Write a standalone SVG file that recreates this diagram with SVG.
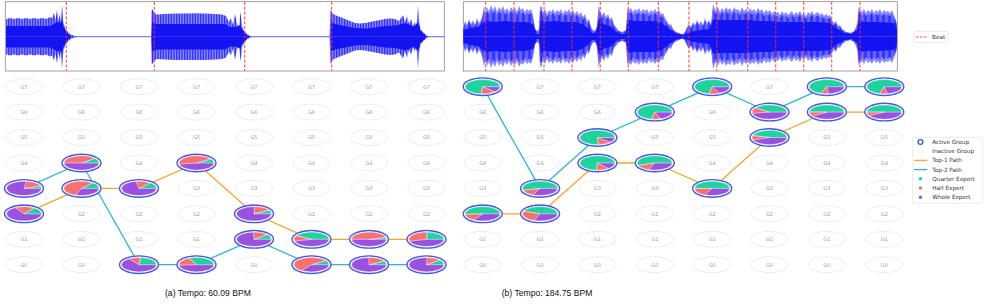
<svg xmlns="http://www.w3.org/2000/svg" xmlns:xlink="http://www.w3.org/1999/xlink" width="986" height="304" viewBox="0 0 986 304">
<style>
.box{fill:#fff;stroke:#8a8a8a;stroke-width:0.8}
.wo{fill:url(#st)}
.wc{fill:#1414f2}
.flat{stroke:#8080ff;stroke-width:1.3}
.beat{stroke:#ff2a2a;stroke-width:1.1;stroke-dasharray:3 1.8;stroke-opacity:0.85}
.ie{fill:#fff;stroke:#e4e9f1;stroke-width:0.8}
.lab{font-family:"DejaVu Sans",sans-serif;font-size:5px;fill:#9aa0a8;text-anchor:middle}
.ring{fill:#fff;stroke:#4658e6;stroke-width:1.4}
.pw{fill:#9b51e0;stroke:#fff;stroke-width:0.5;vector-effect:non-scaling-stroke}
.pq{fill:#1fd39c;stroke:#fff;stroke-width:0.5;vector-effect:non-scaling-stroke}
.ph{fill:#f87171;stroke:#fff;stroke-width:0.5;vector-effect:non-scaling-stroke}
.p1{fill:none;stroke:#f5a62b;stroke-width:1.3;stroke-linejoin:round}
.p2{fill:none;stroke:#2bb6d8;stroke-width:1.3;stroke-linejoin:round}
.lg{fill:#fff;stroke:#dedede;stroke-width:0.6}
.lt{font-family:"DejaVu Sans",sans-serif;font-size:5.7px;fill:#333}
.cap{font-family:"Liberation Sans",Arial,sans-serif;font-size:8.6px;fill:#111}
</style>
<defs>
<pattern id="st" width="1.6" height="80" patternUnits="userSpaceOnUse"><rect width="1.6" height="80" fill="#a8a8ff"/><rect width="0.9" height="80" fill="#2222ff"/></pattern>
<pattern id="st2" width="1.2" height="80" patternUnits="userSpaceOnUse"><rect width="1.2" height="80" fill="#7a7aff"/><rect width="0.7" height="80" fill="#2a2aff"/></pattern>
<ellipse id="ie" class="ie" rx="18.8" ry="8"/>
<polygon id="wb1" points="463.5,36.5 463.5,27 465,21 467,25 469,19 471,24 473,20 475,25 477,18 479,23 481,20 483,12 484,6 485.5,13 487,7 489,11 491,5 493,10 495,6 497,12 499,7 501,10 503,6 505,11 507,8 509,12 511,7 513,10 515,8 517,12 519,6 521,10 523,8 525,12 527,9 529,11 531,9 533,15 535,28 537,31 539,29 540,7 541.5,6 543,13 545,9 547,14 549,10 551,12 553,9 555,13 557,10 559,12 561,9 563,14 565,10 567,12 569,9 571,13 573,10 575,14 577,11 579,15 581,12 583,17 585,14 587,21 589,19 591,27 593,30 595,31 597,26 598.5,5 600,11 602,15 604,12 606,17 608,14 610,19 612,17 614,25 616,27 618,30 620,31 622,32 624,31 626,30 627.5,8 629,10 631,8 633,12 635,9 637,11 639,8 641,12 643,9 645,11 647,9 649,13 651,10 653,12 655,9 657,12 659,10 661,14 663,13 665,18 667,21 669,25 671,24 673,29 675,31 677,32 679,33 681,34 683,34 685,32 687,27 689,24 691,27 693,22 695,25 697,20 699,24 701,21 703,25 705,18 707,23 709,20 711,24 713,4 714.5,8 716,11 718,7 720,12 722,8 724,11 726,7 728,10 730,8 732,12 734,7 736,10 738,9 740,12 742,7 744,11 746,9 748,12 750,8 752,11 754,9 756,12 758,8 760,11 762,9 764,13 766,10 768,12 770,10 772,14 774,11 776,13 778,12 780,15 782,11 784,14 786,12 788,15 790,13 792,11 794,15 796,12 798,14 800,11 802,15 804,13 806,16 808,12 810,14 812,11 814,15 816,13 818,12 820,15 822,13 824,16 826,14 828,16 830,15 832,20 834,23 836,21 838,26 840,25 842,29 844,30 846,32 848,32 850,33 852,32 854,31 856,27 857.5,22 858.5,7 860,10 862,12 864,9 866,13 868,10 870,12 872,9 874,13 876,10 878,12 880,9 882,13 884,10 886,12 888,11 890,13 892,10 894,15 896,20 897,24 897,36.5"/>
<polygon id="wb2" points="463.5,36.5 463.5,30 470,28 478,27 484,22 486,21 495,22 505,21 515,22 525,22 533,24 536,34 539,34 541,20 545,22 555,21 565,22 575,22 582,24 588,28 592,33 596,33 599,18 603,24 610,26 614,30 620,34 626,34 628,20 635,21 645,21 655,21 662,23 668,28 675,33 684,35 690,32 700,30 710,29 713,19 716,20 730,20 745,20 760,21 770,21 780,22 800,22 820,22 830,23 836,28 845,33 852,34 857,30 859,21 865,22 880,22 894,23 897,30 897,36.5"/>
</defs>

<g id="waveform-a">
<rect class="box" x="5.3" y="1.7" width="439" height="69.3"/>
<line class="flat" x1="6" y1="36.7" x2="444" y2="36.7"/>
<polygon id="wa1" class="wo" points="6,36.7 6,19 10,18 14,19 18,18 22,19 26,18 30,19 34,18 38,19 42,18 46,19 50,17 52,18 54,13 55.5,20 57,10 58.5,21 60,14 61,22 62,5 63.5,23 65,28 67,31 70,34 74,35.8 78,36.5 78,36.7"/>
<polygon id="wa2" class="wo" points="151,36.7 151.5,10 152.5,9.3 154,13 157,14.5 165,14 175,13.5 185,13.5 195,13.3 205,13.5 215,14 222,14.5 226,16 229,22 231,18 233,25 235,14 237,24 239,28 240.5,12 242,26 244,31 247,34 250,36 253,36.7"/>
<polygon id="wa3" class="wo" points="329.5,36.7 330.5,9 332,13 335,15 340,17 345,19 350,21 355,23 360,23.5 365,23 370,22 375,21 380,20 385,19 390,18.5 395,19 399,21 401,18 403,15 405,22 407,16 409,24 411,19 413,26 415,22 416.5,27 418,5 419.5,25 421,30 424,33 427,35.8 430,36.7"/>
<polygon id="wa4" class="wc" points="6,36.7 6,26 50,26 54,24 57,22 60,23 62,20 64,28 67,33 70,35.5 72,36.7"/>
<polygon id="wa5" class="wc" points="151.5,36.7 152,22 156,24 225,24 230,27 236,27 240,25 243,31 247,35 250,36.7"/>
<polygon id="wa6" class="wc" points="330.5,36.7 331,22 335,24 345,26 355,28 365,28.5 375,27.5 385,26 395,25.5 402,24 406,23 410,25 414,27 418,22 420,30 424,34 427,36.7"/>
<g transform="translate(0,73.4) scale(1,-1)">
<use href="#wa1"/><use href="#wa2"/><use href="#wa3"/><use href="#wa4"/><use href="#wa5"/><use href="#wa6"/>
</g>
<line class="beat" x1="66.3" y1="2" x2="66.3" y2="71"/>
<line class="beat" x1="154.3" y1="2" x2="154.3" y2="71"/>
<line class="beat" x1="244.7" y1="2" x2="244.7" y2="71"/>
<line class="beat" x1="331.7" y1="2" x2="331.7" y2="71"/>
</g>

<g id="waveform-b">
<rect class="box" x="463.3" y="1.7" width="434" height="69.3"/>
<use href="#wb1" fill="#8a8aff"/>
<use href="#wb1" fill="url(#st2)" transform="translate(0,36.5) scale(1,0.86) translate(0,-36.5)"/>
<use href="#wb2" fill="#1414f2"/>
<g transform="translate(0,73) scale(1,-1)">
<use href="#wb1" fill="#8a8aff"/>
<use href="#wb1" fill="url(#st2)" transform="translate(0,36.5) scale(1,0.86) translate(0,-36.5)"/>
<use href="#wb2" fill="#1414f2"/>
</g>
<line class="beat" x1="485.7" y1="2" x2="485.7" y2="71"/>
<line class="beat" x1="514" y1="2" x2="514" y2="71"/>
<line class="beat" x1="544" y1="2" x2="544" y2="71"/>
<line class="beat" x1="572" y1="2" x2="572" y2="71"/>
<line class="beat" x1="600.3" y1="2" x2="600.3" y2="71"/>
<line class="beat" x1="628.3" y1="2" x2="628.3" y2="71"/>
<line class="beat" x1="658.3" y1="2" x2="658.3" y2="71"/>
<line class="beat" x1="689" y1="2" x2="689" y2="71"/>
<line class="beat" x1="716.7" y1="2" x2="716.7" y2="71"/>
<line class="beat" x1="747.7" y1="2" x2="747.7" y2="71"/>
<line class="beat" x1="775.7" y1="2" x2="775.7" y2="71"/>
<line class="beat" x1="803.7" y1="2" x2="803.7" y2="71"/>
<line class="beat" x1="831.7" y1="2" x2="831.7" y2="71"/>
<line class="beat" x1="860" y1="2" x2="860" y2="71"/>
</g>

<g id="legend-beat">
<rect class="lg" x="914" y="31.5" width="34" height="11" rx="1.5"/>
<line class="beat" x1="916" y1="37" x2="928" y2="37" style="stroke-dasharray:2.5 1.5"/>
<text class="lt" x="932" y="39">Beat</text>
</g>

<g id="inactive-a">
<g id="a0-7" transform="translate(24,86.7)"><use href="#ie"/><text class="lab" y="1.8">G7</text></g>
<g id="a0-6" transform="translate(24,112.1)"><use href="#ie"/><text class="lab" y="1.8">G6</text></g>
<g id="a0-5" transform="translate(24,137.5)"><use href="#ie"/><text class="lab" y="1.8">G5</text></g>
<g id="a0-4" transform="translate(24,163)"><use href="#ie"/><text class="lab" y="1.8">G4</text></g>
<g id="a0-1" transform="translate(24,239.3)"><use href="#ie"/><text class="lab" y="1.8">G1</text></g>
<g id="a0-0" transform="translate(24,264.7)"><use href="#ie"/><text class="lab" y="1.8">G0</text></g>
<g id="a1-7" transform="translate(81.5,86.7)"><use href="#ie"/><text class="lab" y="1.8">G7</text></g>
<g id="a1-6" transform="translate(81.5,112.1)"><use href="#ie"/><text class="lab" y="1.8">G6</text></g>
<g id="a1-5" transform="translate(81.5,137.5)"><use href="#ie"/><text class="lab" y="1.8">G5</text></g>
<g id="a1-2" transform="translate(81.5,213.8)"><use href="#ie"/><text class="lab" y="1.8">G2</text></g>
<g id="a1-1" transform="translate(81.5,239.3)"><use href="#ie"/><text class="lab" y="1.8">G1</text></g>
<g id="a1-0" transform="translate(81.5,264.7)"><use href="#ie"/><text class="lab" y="1.8">G0</text></g>
<g id="a2-7" transform="translate(139,86.7)"><use href="#ie"/><text class="lab" y="1.8">G7</text></g>
<g id="a2-6" transform="translate(139,112.1)"><use href="#ie"/><text class="lab" y="1.8">G6</text></g>
<g id="a2-5" transform="translate(139,137.5)"><use href="#ie"/><text class="lab" y="1.8">G5</text></g>
<g id="a2-4" transform="translate(139,163)"><use href="#ie"/><text class="lab" y="1.8">G4</text></g>
<g id="a2-2" transform="translate(139,213.8)"><use href="#ie"/><text class="lab" y="1.8">G2</text></g>
<g id="a2-1" transform="translate(139,239.3)"><use href="#ie"/><text class="lab" y="1.8">G1</text></g>
<g id="a3-7" transform="translate(196.5,86.7)"><use href="#ie"/><text class="lab" y="1.8">G7</text></g>
<g id="a3-6" transform="translate(196.5,112.1)"><use href="#ie"/><text class="lab" y="1.8">G6</text></g>
<g id="a3-5" transform="translate(196.5,137.5)"><use href="#ie"/><text class="lab" y="1.8">G5</text></g>
<g id="a3-3" transform="translate(196.5,188.4)"><use href="#ie"/><text class="lab" y="1.8">G3</text></g>
<g id="a3-2" transform="translate(196.5,213.8)"><use href="#ie"/><text class="lab" y="1.8">G2</text></g>
<g id="a3-1" transform="translate(196.5,239.3)"><use href="#ie"/><text class="lab" y="1.8">G1</text></g>
<g id="a4-7" transform="translate(254,86.7)"><use href="#ie"/><text class="lab" y="1.8">G7</text></g>
<g id="a4-6" transform="translate(254,112.1)"><use href="#ie"/><text class="lab" y="1.8">G6</text></g>
<g id="a4-5" transform="translate(254,137.5)"><use href="#ie"/><text class="lab" y="1.8">G5</text></g>
<g id="a4-4" transform="translate(254,163)"><use href="#ie"/><text class="lab" y="1.8">G4</text></g>
<g id="a4-3" transform="translate(254,188.4)"><use href="#ie"/><text class="lab" y="1.8">G3</text></g>
<g id="a4-0" transform="translate(254,264.7)"><use href="#ie"/><text class="lab" y="1.8">G0</text></g>
<g id="a5-7" transform="translate(311.5,86.7)"><use href="#ie"/><text class="lab" y="1.8">G7</text></g>
<g id="a5-6" transform="translate(311.5,112.1)"><use href="#ie"/><text class="lab" y="1.8">G6</text></g>
<g id="a5-5" transform="translate(311.5,137.5)"><use href="#ie"/><text class="lab" y="1.8">G5</text></g>
<g id="a5-4" transform="translate(311.5,163)"><use href="#ie"/><text class="lab" y="1.8">G4</text></g>
<g id="a5-3" transform="translate(311.5,188.4)"><use href="#ie"/><text class="lab" y="1.8">G3</text></g>
<g id="a5-2" transform="translate(311.5,213.8)"><use href="#ie"/><text class="lab" y="1.8">G2</text></g>
<g id="a6-7" transform="translate(369,86.7)"><use href="#ie"/><text class="lab" y="1.8">G7</text></g>
<g id="a6-6" transform="translate(369,112.1)"><use href="#ie"/><text class="lab" y="1.8">G6</text></g>
<g id="a6-5" transform="translate(369,137.5)"><use href="#ie"/><text class="lab" y="1.8">G5</text></g>
<g id="a6-4" transform="translate(369,163)"><use href="#ie"/><text class="lab" y="1.8">G4</text></g>
<g id="a6-3" transform="translate(369,188.4)"><use href="#ie"/><text class="lab" y="1.8">G3</text></g>
<g id="a6-2" transform="translate(369,213.8)"><use href="#ie"/><text class="lab" y="1.8">G2</text></g>
<g id="a7-7" transform="translate(426.5,86.7)"><use href="#ie"/><text class="lab" y="1.8">G7</text></g>
<g id="a7-6" transform="translate(426.5,112.1)"><use href="#ie"/><text class="lab" y="1.8">G6</text></g>
<g id="a7-5" transform="translate(426.5,137.5)"><use href="#ie"/><text class="lab" y="1.8">G5</text></g>
<g id="a7-4" transform="translate(426.5,163)"><use href="#ie"/><text class="lab" y="1.8">G4</text></g>
<g id="a7-3" transform="translate(426.5,188.4)"><use href="#ie"/><text class="lab" y="1.8">G3</text></g>
<g id="a7-2" transform="translate(426.5,213.8)"><use href="#ie"/><text class="lab" y="1.8">G2</text></g>
</g>

<g id="inactive-b">
<g id="b0-6" transform="translate(482.7,112.1)"><use href="#ie"/><text class="lab" y="1.8">G6</text></g>
<g id="b0-5" transform="translate(482.7,137.5)"><use href="#ie"/><text class="lab" y="1.8">G5</text></g>
<g id="b0-4" transform="translate(482.7,163)"><use href="#ie"/><text class="lab" y="1.8">G4</text></g>
<g id="b0-3" transform="translate(482.7,188.4)"><use href="#ie"/><text class="lab" y="1.8">G3</text></g>
<g id="b0-1" transform="translate(482.7,239.3)"><use href="#ie"/><text class="lab" y="1.8">G1</text></g>
<g id="b0-0" transform="translate(482.7,264.7)"><use href="#ie"/><text class="lab" y="1.8">G0</text></g>
<g id="b1-7" transform="translate(540.1,86.7)"><use href="#ie"/><text class="lab" y="1.8">G7</text></g>
<g id="b1-6" transform="translate(540.1,112.1)"><use href="#ie"/><text class="lab" y="1.8">G6</text></g>
<g id="b1-5" transform="translate(540.1,137.5)"><use href="#ie"/><text class="lab" y="1.8">G5</text></g>
<g id="b1-4" transform="translate(540.1,163)"><use href="#ie"/><text class="lab" y="1.8">G4</text></g>
<g id="b1-1" transform="translate(540.1,239.3)"><use href="#ie"/><text class="lab" y="1.8">G1</text></g>
<g id="b1-0" transform="translate(540.1,264.7)"><use href="#ie"/><text class="lab" y="1.8">G0</text></g>
<g id="b2-7" transform="translate(597.4,86.7)"><use href="#ie"/><text class="lab" y="1.8">G7</text></g>
<g id="b2-6" transform="translate(597.4,112.1)"><use href="#ie"/><text class="lab" y="1.8">G6</text></g>
<g id="b2-3" transform="translate(597.4,188.4)"><use href="#ie"/><text class="lab" y="1.8">G3</text></g>
<g id="b2-2" transform="translate(597.4,213.8)"><use href="#ie"/><text class="lab" y="1.8">G2</text></g>
<g id="b2-1" transform="translate(597.4,239.3)"><use href="#ie"/><text class="lab" y="1.8">G1</text></g>
<g id="b2-0" transform="translate(597.4,264.7)"><use href="#ie"/><text class="lab" y="1.8">G0</text></g>
<g id="b3-7" transform="translate(654.8,86.7)"><use href="#ie"/><text class="lab" y="1.8">G7</text></g>
<g id="b3-5" transform="translate(654.8,137.5)"><use href="#ie"/><text class="lab" y="1.8">G5</text></g>
<g id="b3-3" transform="translate(654.8,188.4)"><use href="#ie"/><text class="lab" y="1.8">G3</text></g>
<g id="b3-2" transform="translate(654.8,213.8)"><use href="#ie"/><text class="lab" y="1.8">G2</text></g>
<g id="b3-1" transform="translate(654.8,239.3)"><use href="#ie"/><text class="lab" y="1.8">G1</text></g>
<g id="b3-0" transform="translate(654.8,264.7)"><use href="#ie"/><text class="lab" y="1.8">G0</text></g>
<g id="b4-6" transform="translate(712.2,112.1)"><use href="#ie"/><text class="lab" y="1.8">G6</text></g>
<g id="b4-5" transform="translate(712.2,137.5)"><use href="#ie"/><text class="lab" y="1.8">G5</text></g>
<g id="b4-4" transform="translate(712.2,163)"><use href="#ie"/><text class="lab" y="1.8">G4</text></g>
<g id="b4-2" transform="translate(712.2,213.8)"><use href="#ie"/><text class="lab" y="1.8">G2</text></g>
<g id="b4-1" transform="translate(712.2,239.3)"><use href="#ie"/><text class="lab" y="1.8">G1</text></g>
<g id="b4-0" transform="translate(712.2,264.7)"><use href="#ie"/><text class="lab" y="1.8">G0</text></g>
<g id="b5-7" transform="translate(769.5,86.7)"><use href="#ie"/><text class="lab" y="1.8">G7</text></g>
<g id="b5-4" transform="translate(769.5,163)"><use href="#ie"/><text class="lab" y="1.8">G4</text></g>
<g id="b5-3" transform="translate(769.5,188.4)"><use href="#ie"/><text class="lab" y="1.8">G3</text></g>
<g id="b5-2" transform="translate(769.5,213.8)"><use href="#ie"/><text class="lab" y="1.8">G2</text></g>
<g id="b5-1" transform="translate(769.5,239.3)"><use href="#ie"/><text class="lab" y="1.8">G1</text></g>
<g id="b5-0" transform="translate(769.5,264.7)"><use href="#ie"/><text class="lab" y="1.8">G0</text></g>
<g id="b6-5" transform="translate(826.9,137.5)"><use href="#ie"/><text class="lab" y="1.8">G5</text></g>
<g id="b6-4" transform="translate(826.9,163)"><use href="#ie"/><text class="lab" y="1.8">G4</text></g>
<g id="b6-3" transform="translate(826.9,188.4)"><use href="#ie"/><text class="lab" y="1.8">G3</text></g>
<g id="b6-2" transform="translate(826.9,213.8)"><use href="#ie"/><text class="lab" y="1.8">G2</text></g>
<g id="b6-1" transform="translate(826.9,239.3)"><use href="#ie"/><text class="lab" y="1.8">G1</text></g>
<g id="b6-0" transform="translate(826.9,264.7)"><use href="#ie"/><text class="lab" y="1.8">G0</text></g>
<g id="b7-5" transform="translate(884.3,137.5)"><use href="#ie"/><text class="lab" y="1.8">G5</text></g>
<g id="b7-4" transform="translate(884.3,163)"><use href="#ie"/><text class="lab" y="1.8">G4</text></g>
<g id="b7-3" transform="translate(884.3,188.4)"><use href="#ie"/><text class="lab" y="1.8">G3</text></g>
<g id="b7-2" transform="translate(884.3,213.8)"><use href="#ie"/><text class="lab" y="1.8">G2</text></g>
<g id="b7-1" transform="translate(884.3,239.3)"><use href="#ie"/><text class="lab" y="1.8">G1</text></g>
<g id="b7-0" transform="translate(884.3,264.7)"><use href="#ie"/><text class="lab" y="1.8">G0</text></g>
</g>

<g id="connectors">
<polyline id="a-top1" class="p1" points="24,213.8 81.5,188.4 139,188.4 196.5,163 254,213.8 311.5,239.3 369,239.3 426.5,239.3"/>
<polyline id="a-top2" class="p2" points="24,188.4 81.5,163 139,264.7 196.5,264.7 254,239.3 311.5,264.7 369,264.7 426.5,264.7"/>
<polyline id="b-top1" class="p1" points="482.7,213.8 540.1,213.8 597.4,163 654.8,163 712.2,188.4 769.5,137.5 826.9,112.1 884.3,112.1"/>
<polyline id="b-top2" class="p2" points="482.7,86.7 540.1,188.4 597.4,137.5 654.8,112.1 712.2,86.7 769.5,112.1 826.9,86.7 884.3,86.7"/>
</g>

<g id="active-a">
<g id="a0-3" transform="translate(24,188.4)"><ellipse class="ring" rx="19.5" ry="8.8"/><g transform="scale(17.5,7.2)"><circle class="pw" r="1"/><path class="pq" d="M0 0H1A1 1 0 0 0 .94 -.342Z"/><path class="ph" d="M0 0L.94 -.342A1 1 0 0 0 .139 -.99Z"/></g></g>
<g id="a0-2" transform="translate(24,213.8)"><ellipse class="ring" rx="19.5" ry="8.8"/><g transform="scale(17.5,7.2)"><circle class="pw" r="1"/><path class="pq" d="M0 0H1A1 1 0 0 0 .574 -.819Z"/><path class="ph" d="M0 0L.574 -.819A1 1 0 0 0 -.5 -.866Z"/></g></g>
<g id="a1-4" transform="translate(81.5,163)"><ellipse class="ring" rx="19.5" ry="8.8"/><g transform="scale(17.5,7.2)"><circle class="pw" r="1"/><path class="pq" d="M0 0H1A1 1 0 0 0 .766 -.643Z"/><path class="ph" d="M0 0L.766 -.643A1 1 0 0 0 -1 0Z"/></g></g>
<g id="a1-3" transform="translate(81.5,188.4)"><ellipse class="ring" rx="19.5" ry="8.8"/><g transform="scale(17.5,7.2)"><circle class="pw" r="1"/><path class="pq" d="M0 0H1A1 1 0 0 0 .643 -.766Z"/><path class="ph" d="M0 0L.643 -.766A1 1 0 1 0 -.342 .94Z"/></g></g>
<g id="a2-3" transform="translate(139,188.4)"><ellipse class="ring" rx="19.5" ry="8.8"/><g transform="scale(17.5,7.2)"><circle class="pw" r="1"/><path class="pq" d="M0 0H1A1 1 0 0 0 .643 -.766Z"/><path class="ph" d="M0 0L.643 -.766A1 1 0 0 0 -.174 -.985Z"/></g></g>
<g id="a2-0" transform="translate(139,264.7)"><ellipse class="ring" rx="19.5" ry="8.8"/><g transform="scale(17.5,7.2)"><circle class="pw" r="1"/><path class="pq" d="M0 0H1A1 1 0 0 0 .087 -.996Z"/><path class="ph" d="M0 0L.087 -.996A1 1 0 0 0 -.574 -.819Z"/></g></g>
<g id="a3-4" transform="translate(196.5,163)"><ellipse class="ring" rx="19.5" ry="8.8"/><g transform="scale(17.5,7.2)"><circle class="pw" r="1"/><path class="pq" d="M0 0H1A1 1 0 0 0 .819 -.574Z"/><path class="ph" d="M0 0L.819 -.574A1 1 0 0 0 -.985 .174Z"/></g></g>
<g id="a3-0" transform="translate(196.5,264.7)"><ellipse class="ring" rx="19.5" ry="8.8"/><g transform="scale(17.5,7.2)"><circle class="pw" r="1"/><path class="pq" d="M0 0H1A1 1 0 0 0 -.423 -.906Z"/><path class="ph" d="M0 0L-.423 -.906A1 1 0 0 0 -.996 .087Z"/></g></g>
<g id="a4-2" transform="translate(254,213.8)"><ellipse class="ring" rx="19.5" ry="8.8"/><g transform="scale(17.5,7.2)"><circle class="pw" r="1"/><path class="pq" d="M0 0H1A1 1 0 0 0 .866 -.5Z"/><path class="ph" d="M0 0L.866 -.5A1 1 0 0 0 .035 -.999Z"/></g></g>
<g id="a4-1" transform="translate(254,239.3)"><ellipse class="ring" rx="19.5" ry="8.8"/><g transform="scale(17.5,7.2)"><circle class="pw" r="1"/><path class="pq" d="M0 0H1A1 1 0 0 0 .766 -.643Z"/><path class="ph" d="M0 0L.766 -.643A1 1 0 0 0 -.035 -.999Z"/></g></g>
<g id="a5-1" transform="translate(311.5,239.3)"><ellipse class="ring" rx="19.5" ry="8.8"/><g transform="scale(17.5,7.2)"><circle class="pw" r="1"/><path class="pq" d="M0 0H1A1 1 0 0 0 -.866 -.5Z"/><path class="ph" d="M0 0L-.866 -.5A1 1 0 0 0 -.966 .259Z"/></g></g>
<g id="a5-0" transform="translate(311.5,264.7)"><ellipse class="ring" rx="19.5" ry="8.8"/><g transform="scale(17.5,7.2)"><circle class="pw" r="1"/><path class="pq" d="M0 0H1A1 1 0 0 0 .819 -.574Z"/><path class="ph" d="M0 0L.819 -.574A1 1 0 1 0 -.574 .819Z"/></g></g>
<g id="a6-1" transform="translate(369,239.3)"><ellipse class="ring" rx="19.5" ry="8.8"/><g transform="scale(17.5,7.2)"><circle class="pw" r="1"/><path class="pq" d="M0 0H1A1 1 0 0 0 .966 -.259Z"/><path class="ph" d="M0 0L.966 -.259A1 1 0 0 0 -1 0Z"/></g></g>
<g id="a6-0" transform="translate(369,264.7)"><ellipse class="ring" rx="19.5" ry="8.8"/><g transform="scale(17.5,7.2)"><circle class="pw" r="1"/><path class="pq" d="M0 0H1A1 1 0 0 0 .866 -.5Z"/><path class="ph" d="M0 0L.866 -.5A1 1 0 0 0 0 -1Z"/></g></g>
<g id="a7-1" transform="translate(426.5,239.3)"><ellipse class="ring" rx="19.5" ry="8.8"/><g transform="scale(17.5,7.2)"><circle class="pw" r="1"/><path class="pq" d="M0 0H1A1 1 0 0 0 .035 -.999Z"/><path class="ph" d="M0 0L.035 -.999A1 1 0 0 0 -.966 .259Z"/></g></g>
<g id="a7-0" transform="translate(426.5,264.7)"><ellipse class="ring" rx="19.5" ry="8.8"/><g transform="scale(17.5,7.2)"><circle class="pw" r="1"/><path class="pq" d="M0 0H1A1 1 0 0 0 .766 -.643Z"/><path class="ph" d="M0 0L.766 -.643A1 1 0 0 0 .035 -.999Z"/></g></g>
</g>

<g id="active-b">
<g id="b0-7" transform="translate(482.7,86.7)"><ellipse class="ring" rx="19.5" ry="8.8"/><g transform="scale(17.5,7.2)"><circle class="pw" r="1"/><path class="pq" d="M0 0H1A1 1 0 1 0 -.087 .996Z"/><path class="ph" d="M0 0L-.087 .996A1 1 0 0 0 .707 .707Z"/></g></g>
<g id="b0-2" transform="translate(482.7,213.8)"><ellipse class="ring" rx="19.5" ry="8.8"/><g transform="scale(17.5,7.2)"><circle class="pw" r="1"/><path class="pq" d="M0 0H1A1 1 0 1 0 -.996 .087Z"/><path class="ph" d="M0 0L-.996 .087A1 1 0 0 0 -.5 .866Z"/></g></g>
<g id="b1-3" transform="translate(540.1,188.4)"><ellipse class="ring" rx="19.5" ry="8.8"/><g transform="scale(17.5,7.2)"><circle class="pw" r="1"/><path class="pq" d="M0 0H1A1 1 0 1 0 -.966 .259Z"/><path class="ph" d="M0 0L-.966 .259A1 1 0 0 0 -.423 .906Z"/></g></g>
<g id="b1-2" transform="translate(540.1,213.8)"><ellipse class="ring" rx="19.5" ry="8.8"/><g transform="scale(17.5,7.2)"><circle class="pw" r="1"/><path class="pq" d="M0 0H1A1 1 0 0 0 -.94 -.342Z"/><path class="ph" d="M0 0L-.94 -.342A1 1 0 0 0 -.342 .94Z"/></g></g>
<g id="b2-5" transform="translate(597.4,137.5)"><ellipse class="ring" rx="19.5" ry="8.8"/><g transform="scale(17.5,7.2)"><circle class="pw" r="1"/><path class="pq" d="M0 0H1A1 1 0 1 0 .087 .996Z"/><path class="ph" d="M0 0L.087 .996A1 1 0 0 0 .743 .669Z"/></g></g>
<g id="b2-4" transform="translate(597.4,163)"><ellipse class="ring" rx="19.5" ry="8.8"/><g transform="scale(17.5,7.2)"><circle class="pw" r="1"/><path class="pq" d="M0 0H1A1 1 0 1 0 -.035 .999Z"/><path class="ph" d="M0 0L-.035 .999A1 1 0 0 0 .643 .766Z"/></g></g>
<g id="b3-6" transform="translate(654.8,112.1)"><ellipse class="ring" rx="19.5" ry="8.8"/><g transform="scale(17.5,7.2)"><circle class="pw" r="1"/><path class="pq" d="M0 0H1A1 1 0 1 0 -.174 .985Z"/><path class="ph" d="M0 0L-.174 .985A1 1 0 0 0 .342 .94Z"/></g></g>
<g id="b3-4" transform="translate(654.8,163)"><ellipse class="ring" rx="19.5" ry="8.8"/><g transform="scale(17.5,7.2)"><circle class="pw" r="1"/><path class="pq" d="M0 0H1A1 1 0 1 0 -.94 .342Z"/><path class="ph" d="M0 0L-.94 .342A1 1 0 0 0 -.342 .94Z"/></g></g>
<g id="b4-7" transform="translate(712.2,86.7)"><ellipse class="ring" rx="19.5" ry="8.8"/><g transform="scale(17.5,7.2)"><circle class="pw" r="1"/><path class="pq" d="M0 0H1A1 1 0 1 0 -.174 .985Z"/><path class="ph" d="M0 0L-.174 .985A1 1 0 0 0 .423 .906Z"/></g></g>
<g id="b4-3" transform="translate(712.2,188.4)"><ellipse class="ring" rx="19.5" ry="8.8"/><g transform="scale(17.5,7.2)"><circle class="pw" r="1"/><path class="pq" d="M0 0H1A1 1 0 0 0 -1 0Z"/><path class="ph" d="M0 0L-1 0A1 1 0 0 0 -.423 .906Z"/></g></g>
<g id="b5-6" transform="translate(769.5,112.1)"><ellipse class="ring" rx="19.5" ry="8.8"/><g transform="scale(17.5,7.2)"><circle class="pw" r="1"/><path class="pq" d="M0 0H1A1 1 0 0 0 -.819 -.574Z"/><path class="ph" d="M0 0L-.819 -.574A1 1 0 0 0 -.985 .174Z"/></g></g>
<g id="b5-5" transform="translate(769.5,137.5)"><ellipse class="ring" rx="19.5" ry="8.8"/><g transform="scale(17.5,7.2)"><circle class="pw" r="1"/><path class="pq" d="M0 0H1A1 1 0 0 0 -.966 -.259Z"/><path class="ph" d="M0 0L-.966 -.259A1 1 0 0 0 -.94 .342Z"/></g></g>
<g id="b6-7" transform="translate(826.9,86.7)"><ellipse class="ring" rx="19.5" ry="8.8"/><g transform="scale(17.5,7.2)"><circle class="pw" r="1"/><path class="pq" d="M0 0H1A1 1 0 1 0 -.342 .94Z"/><path class="ph" d="M0 0L-.342 .94A1 1 0 0 0 .087 .996Z"/></g></g>
<g id="b6-6" transform="translate(826.9,112.1)"><ellipse class="ring" rx="19.5" ry="8.8"/><g transform="scale(17.5,7.2)"><circle class="pw" r="1"/><path class="pq" d="M0 0H1A1 1 0 0 0 -1 0Z"/><path class="ph" d="M0 0L-1 0A1 1 0 0 0 -.819 .574Z"/></g></g>
<g id="b7-7" transform="translate(884.3,86.7)"><ellipse class="ring" rx="19.5" ry="8.8"/><g transform="scale(17.5,7.2)"><circle class="pw" r="1"/><path class="pq" d="M0 0H1A1 1 0 1 0 -.259 .966Z"/><path class="ph" d="M0 0L-.259 .966A1 1 0 0 0 .174 .985Z"/></g></g>
<g id="b7-6" transform="translate(884.3,112.1)"><ellipse class="ring" rx="19.5" ry="8.8"/><g transform="scale(17.5,7.2)"><circle class="pw" r="1"/><path class="pq" d="M0 0H1A1 1 0 0 0 -1 0Z"/><path class="ph" d="M0 0L-1 0A1 1 0 0 0 -.866 .5Z"/></g></g>
</g>

<g id="legend">
<rect class="lg" x="912.7" y="137.3" width="70" height="66" rx="2"/>
<circle cx="920.5" cy="142" r="2.4" fill="none" stroke="#3358e0" stroke-width="1.3"/>
<text class="lt" x="932.3" y="144">Active Group</text>
<circle cx="920.5" cy="151.2" r="2.4" fill="none" stroke="#eef0f5" stroke-width="1"/>
<text class="lt" x="932.3" y="153.2">Inactive Group</text>
<line class="p1" x1="914" y1="160.4" x2="927.3" y2="160.4"/>
<text class="lt" x="932.3" y="162.4">Top-1 Path</text>
<line class="p2" x1="914" y1="169.6" x2="927.3" y2="169.6"/>
<text class="lt" x="932.3" y="171.6">Top-2 Path</text>
<circle cx="920.5" cy="178.8" r="1.7" fill="#1fd39c"/>
<text class="lt" x="932.3" y="180.8">Quarter Expert</text>
<circle cx="920.5" cy="188" r="1.7" fill="#f87171"/>
<text class="lt" x="932.3" y="190">Half Expert</text>
<circle cx="920.5" cy="197.2" r="1.7" fill="#9b51e0"/>
<text class="lt" x="932.3" y="199.2">Whole Expert</text>
</g>

<text class="cap" x="165" y="296">(a) Tempo: 60.09 BPM</text>
<text class="cap" x="501.7" y="296">(b) Tempo: 184.75 BPM</text>
</svg>
